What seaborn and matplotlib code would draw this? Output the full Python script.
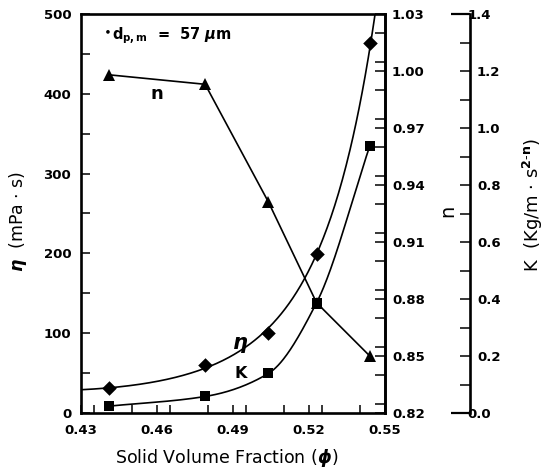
import numpy as np
import pandas as pd
import matplotlib
matplotlib.use("Agg")
import matplotlib.pyplot as plt
import seaborn as sns
from matplotlib.ticker import MultipleLocator, FixedLocator, FuncFormatter

# ---------------- data ----------------
phi = [0.441, 0.479, 0.504, 0.523, 0.544]          # solid volume fraction
eta = [31, 60, 100, 199, 464]                        # viscosity (mPa s)
n_vals = [0.998, 0.993, 0.931, 0.878, 0.850]         # flow index n
K_vals = [0.024, 0.058, 0.139, 0.387, 0.937]         # consistency K

x_ticks = [0.43, 0.46, 0.49, 0.52, 0.55]
eta_ticks = [0, 100, 200, 300, 400, 500]
n_ticks = [0.82, 0.85, 0.88, 0.91, 0.94, 0.97, 1.00, 1.03]
K_ticks = [0.0, 0.2, 0.4, 0.6, 0.8, 1.0, 1.2, 1.4]

# ---------------- style ----------------
sns.set_style("ticks")
plt.rcParams["font.family"] = ["DejaVu Sans"]
plt.rcParams["mathtext.fontset"] = "custom"
plt.rcParams["mathtext.rm"] = "DejaVu Sans"
plt.rcParams["mathtext.it"] = "DejaVu Sans:italic:bold"
plt.rcParams["mathtext.bf"] = "DejaVu Sans:bold"
for k in ["text.color", "axes.labelcolor", "xtick.color", "ytick.color", "axes.edgecolor"]:
    plt.rcParams[k] = "black"

W, H = 547, 469
fig = plt.figure(figsize=(W / 100, H / 100), dpi=100)
L, R, T, B = 81, 385, 14, 413
ax = fig.add_axes([L / W, (H - B) / H, (R - L) / W, (B - T) / H])
ax2 = ax.twinx()
ax3 = ax.twinx()

df = pd.DataFrame({"phi": phi, "eta": eta, "n": n_vals, "K": K_vals})

# smooth curve for eta (quadratic fit of log eta)
coef = np.polyfit(phi, np.log(eta), 2)
xs = np.linspace(x_ticks[0], x_ticks[-1], 400)
eta_fit = pd.DataFrame({"phi": xs, "eta": np.exp(np.polyval(coef, xs))})


def pchip(x, y, xq):
    x = np.asarray(x, float)
    y = np.asarray(y, float)
    h = np.diff(x)
    d = np.diff(y) / h
    m = np.zeros_like(y)
    m[0], m[-1] = d[0], d[-1]
    for k in range(1, len(x) - 1):
        if d[k - 1] * d[k] > 0:
            w1 = 2 * h[k] + h[k - 1]
            w2 = h[k] + 2 * h[k - 1]
            m[k] = (w1 + w2) / (w1 / d[k - 1] + w2 / d[k])
    out = np.empty_like(xq)
    for i, xv in enumerate(xq):
        k = min(max(np.searchsorted(x, xv) - 1, 0), len(x) - 2)
        t = (xv - x[k]) / h[k]
        h00 = 2 * t**3 - 3 * t**2 + 1
        h10 = t**3 - 2 * t**2 + t
        h01 = -2 * t**3 + 3 * t**2
        h11 = t**3 - t**2
        out[i] = h00 * y[k] + h10 * h[k] * m[k] + h01 * y[k + 1] + h11 * h[k] * m[k + 1]
    return out


xk = np.linspace(phi[0], phi[-1], 300)
K_fit = pd.DataFrame({"phi": xk, "K": pchip(phi, K_vals, xk)})

# ---------------- draw ----------------
lw = 1.2
sns.lineplot(data=eta_fit, x="phi", y="eta", ax=ax, color="black", lw=lw, sort=False)
sns.scatterplot(data=df, x="phi", y="eta", ax=ax, marker="D", s=55, color="black",
                edgecolor="black", linewidth=0, zorder=5)

sns.lineplot(data=df, x="phi", y="n", ax=ax2, color="black", lw=lw, marker="^",
             markersize=9, markeredgewidth=0, sort=False)

sns.lineplot(data=K_fit, x="phi", y="K", ax=ax3, color="black", lw=lw, sort=False)
sns.scatterplot(data=df, x="phi", y="K", ax=ax3, marker="s", s=55, color="black",
                edgecolor="black", linewidth=0, zorder=5)

# ---------------- axes ----------------
ax.set_xlim(x_ticks[0], x_ticks[-1])
ax.set_ylim(eta_ticks[0], eta_ticks[-1])
ax2.set_ylim(n_ticks[0], n_ticks[-1])
ax3.set_ylim(K_ticks[0], K_ticks[-1])

spine_w = 1.9
for s in ["left", "right", "top", "bottom"]:
    ax.spines[s].set_visible(True)
    ax.spines[s].set_linewidth(spine_w)
for s in ["left", "top", "bottom"]:
    ax2.spines[s].set_visible(False)
    ax3.spines[s].set_visible(False)
ax2.spines["right"].set_linewidth(spine_w)
ax3.spines["right"].set_linewidth(spine_w)
ax3.spines["right"].set_position(("outward", 85 * 0.72))

tick_font = dict(fontsize=9.5, fontweight="bold")

ax.xaxis.set_major_locator(FixedLocator(x_ticks))
ax.xaxis.set_minor_locator(MultipleLocator(0.015))
ax.set_xticklabels([f"{v:.2f}" for v in x_ticks], **tick_font)
ax.yaxis.set_major_locator(FixedLocator(eta_ticks))
ax.yaxis.set_minor_locator(MultipleLocator(50))
ax.set_yticklabels([str(v) for v in eta_ticks], **tick_font)
ax.tick_params(axis="x", which="both", direction="in", length=6, width=1.1,
               top=False, bottom=True, pad=8)
ax.tick_params(axis="y", which="both", direction="in", length=6.5, width=1.1,
               left=True, right=False, pad=7)

ax2.yaxis.set_major_locator(FixedLocator(n_ticks))
ax2.yaxis.set_minor_locator(MultipleLocator(0.015))
ax2.set_yticklabels([f"{v:.2f}" for v in n_ticks], **tick_font)
ax2.tick_params(axis="y", which="both", direction="in", length=7, width=1.1, pad=5)

# K axis: end caps at 0 and 1.4 are longer
ax3.yaxis.set_major_locator(FixedLocator([K_ticks[0], K_ticks[-1]]))
ax3.yaxis.set_minor_locator(FixedLocator(np.round(np.arange(0.1, 1.4, 0.1), 1)))
ax3.yaxis.set_major_formatter(FuncFormatter(lambda v, p: f"{v:.1f}"))
ax3.yaxis.set_minor_formatter(FuncFormatter(
    lambda v, p: f"{v:.1f}" if any(abs(v - k) < 1e-6 for k in K_ticks) else ""))
ax3.tick_params(axis="y", which="major", direction="in", length=14, width=1.6, pad=-2)
ax3.tick_params(axis="y", which="minor", direction="in", length=7, width=1.1, pad=5)
for lab in ax3.yaxis.get_majorticklabels() + ax3.yaxis.get_minorticklabels():
    lab.set_fontsize(9.5)
    lab.set_fontweight("bold")
ax3.tick_params(axis="y", which="both", labelsize=9.5)

# ---------------- labels ----------------
ax.set_xlabel(r"Solid Volume Fraction ($\phi$)", fontsize=12.5)
ax.xaxis.set_label_coords(0.479, -0.085)
ax.set_ylabel(r"$\eta$  (mPa $\cdot$ s)", fontsize=12.5)
ax.yaxis.set_label_coords(-0.172, 0.479)
ax2.set_ylabel("n", fontsize=14, rotation=90)
ax2.yaxis.set_label_coords(1.174, 0.506)
ax3.set_ylabel(r"K  (Kg/m $\cdot$ s$^{\mathbf{2\text{-}n}}$)", fontsize=13, rotation=90)
ax3.yaxis.set_label_coords(1.447, 0.521)

ax.text(0.072, 0.958, r"$\bullet$", transform=ax.transAxes,
        fontsize=9, ha="left", va="center")
ax.text(0.102, 0.945, r"d$_{\mathbf{p,m}}$  =  57 $\mu$m", transform=ax.transAxes,
        fontsize=10.5, fontweight="bold", ha="left", va="center")
ax.text(0.25, 0.80, "n", transform=ax.transAxes, fontsize=13, fontweight="bold",
        ha="center", va="center")
ax.text(0.523, 0.17, r"$\eta$", transform=ax.transAxes, fontsize=15,
        ha="center", va="center")
ax.text(0.526, 0.10, "K", transform=ax.transAxes, fontsize=11.5, fontweight="bold",
        ha="center", va="center")

fig.savefig("out.png", dpi=100)
